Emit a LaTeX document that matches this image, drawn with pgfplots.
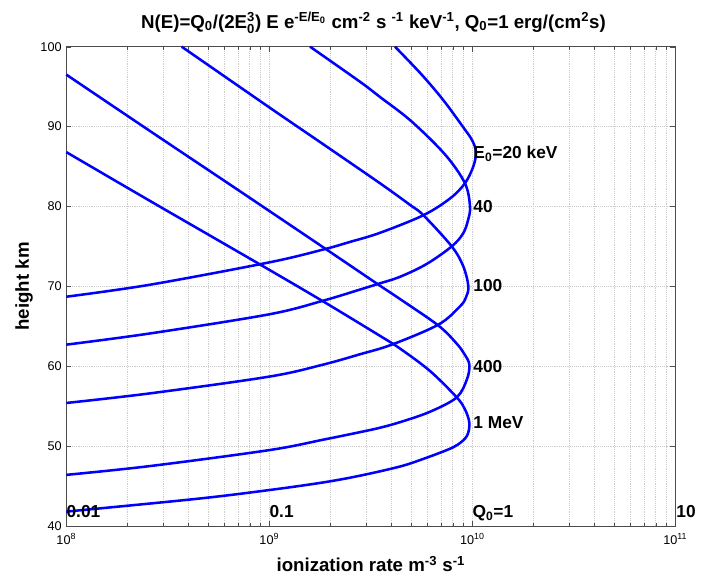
\documentclass[border=0pt]{standalone}
\usepackage{fontspec}
\setmainfont{Liberation Sans}
\usepackage{amsmath}
\usepackage{pgfplots}
\pgfplotsset{compat=1.18}

\begin{document}
\begin{tikzpicture}[curve/.style={blue, line width=1.9pt, smooth, tension=0.55, no marks}]
\begin{axis}[
  name=ax,
  scale only axis,
  width=456.75pt, height=359.5pt,
  xmode=log,
  xmin=1e8, xmax=1e11,
  ymin=40, ymax=100,
  xtick={1e8,1e9,1e10,1e11},
  xticklabels={10\textsuperscript{8},10\textsuperscript{9},10\textsuperscript{10},10\textsuperscript{11}},
  minor xtick={2e8,3e8,4e8,5e8,6e8,7e8,8e8,9e8,2e9,3e9,4e9,5e9,6e9,7e9,8e9,9e9,2e10,3e10,4e10,5e10,6e10,7e10,8e10,9e10},
  ytick={40,50,...,100},
  xmajorgrids, xminorgrids, ymajorgrids,
  major grid style={densely dotted, gray!40},
  minor grid style={densely dotted, gray!40},
  tick align=inside,
  major tick length=3.75pt,
  minor tick length=2.2pt,
  axis line style={gray!60!black},
  tick style={gray!60!black},
  ticklabel style={font=\fontsize{9.5}{11}\selectfont},
  xticklabel style={yshift=-2pt},
  /pgf/number format/assume math mode=true,
  clip=false,
]
% E0 = 20 keV
\addplot[curve] coordinates {
  (4.16e9,100) (5.63e9,96.5) (7.20e9,93.3) (9.03e9,89.9) (9.97e9,88.3)
  (1.043e10,86.8) (1.011e10,85.0) (9.20e9,82.9) (7.77e9,81.0) (5.74e9,78.9)
  (3.51e9,76.7) (2.49e9,75.55) (1.84e9,74.6) (1.0e9,73.0) (2.58e8,70.2) (1e8,68.7)
};
% 40 keV
\addplot[curve] coordinates {
  (1.587e9,100) (2.80e9,95.6) (3.51e9,93.7) (4.99e9,90.7) (7.34e9,86.5)
  (9.20e9,82.9) (9.74e9,80.0) (9.53e9,78.3) (9.0e9,76.6) (7.92e9,75.0)
  (5.96e9,72.8) (4.41e9,71.2) (3.43e9,70.3) (2.80e9,69.6) (1.84e9,68.2) (1.0e9,66.5)
  (2.58e8,64.1) (1e8,62.7)
};
% 100 keV
\addplot[curve] coordinates {
  (3.70e8,100) (1.0e9,92.4) (1.84e9,87.8) (3.51e9,82.9) (4.93e9,80.2)
  (5.74e9,78.9) (7.92e9,75.0) (9.03e9,72.5) (9.56e9,70.0) (9.30e9,68.6)
  (8.70e9,67.5) (6.80e9,65.2) (4.01e9,62.7) (2.80e9,61.5) (1.84e9,60.2)
  (1.0e9,58.7) (2.58e8,56.6) (1e8,55.4)
};
% 400 keV
\addplot[curve] coordinates {
  (1e8,96.5) (2.58e8,89.45) (7.17e8,81.9) (1.84e9,74.9) (3.43e9,70.25)
  (4.41e9,68.4) (6.80e9,65.1) (8.33e9,62.9) (9.15e9,61.5) (9.67e9,60.2)
  (9.42e9,58.4) (8.38e9,56.1) (6.19e9,54.3) (4.41e9,53.0) (3.51e9,52.3)
  (2.80e9,51.75) (1.84e9,50.8) (1.0e9,49.5) (2.58e8,47.5) (1e8,46.4)
};
% 1 MeV
\addplot[curve] coordinates {
  (1e8,86.8) (2.58e8,80.7) (9.34e8,72.5) (1.845e9,68.1) (3.51e9,63.8)
  (4.41e9,62.2) (6.19e9,59.4) (8.38e9,56.1) (9.20e9,54.6) (9.67e9,52.9)
  (9.42e9,51.3) (8.50e9,50.2) (7.48e9,49.5) (5.74e9,48.4) (4.41e9,47.45)
  (2.80e9,46.3) (1.84e9,45.45) (1.0e9,44.5) (4.39e8,43.4) (1e8,41.8)
};

\begin{scope}[every node/.style={anchor=base west, inner sep=0pt, font=\bfseries\fontsize{13}{15}\selectfont}]
\node at (axis cs:1.01e10,86.0) {E\textsubscript{0}=20 keV};
\node at (axis cs:1.01e10,79.2) {40};
\node at (axis cs:1.01e10,69.3) {100};
\node at (axis cs:1.01e10,59.25) {400};
\node at (axis cs:1.01e10,52.2) {1 MeV};
\node at (axis cs:1e8,41.1) {0.01};
\node at (axis cs:1e9,41.1) {0.1};
\node at (axis cs:1e10,41.1) {Q\textsubscript{0}=1};
\node at (axis cs:1.01e11,41.1) {10};
\end{scope}

\node[anchor=base, inner sep=0pt, font=\bfseries\fontsize{14}{16}\selectfont]
  at ([yshift=14pt,xshift=2pt]rel axis cs:0.5,1)
  {N(E)=Q\textsubscript{0}/(2E$_{\text{0}}^{\text{3}}$) E e$^{\text{-E/E}_{\text{0}}}$ cm\textsuperscript{-2} s \textsuperscript{-1} keV\textsuperscript{-1}, Q\textsubscript{0}=1 erg/(cm\textsuperscript{2}s)};
\node[anchor=base, inner sep=0pt, font=\bfseries\fontsize{14}{16}\selectfont]
  at ([yshift=-34.5pt]rel axis cs:0.5,0)
  {ionization rate m\textsuperscript{-3} s\textsuperscript{-1}};
\node[anchor=base, rotate=90, inner sep=0pt, font=\bfseries\fontsize{14}{16}\selectfont]
  at ([xshift=-28pt]rel axis cs:0,0.5)
  {height km};
\end{axis}
\path ([shift={(-49.725pt,-41.25pt)}]ax.south west) rectangle ++(531pt,435.75pt);
\end{tikzpicture}
\end{document}
